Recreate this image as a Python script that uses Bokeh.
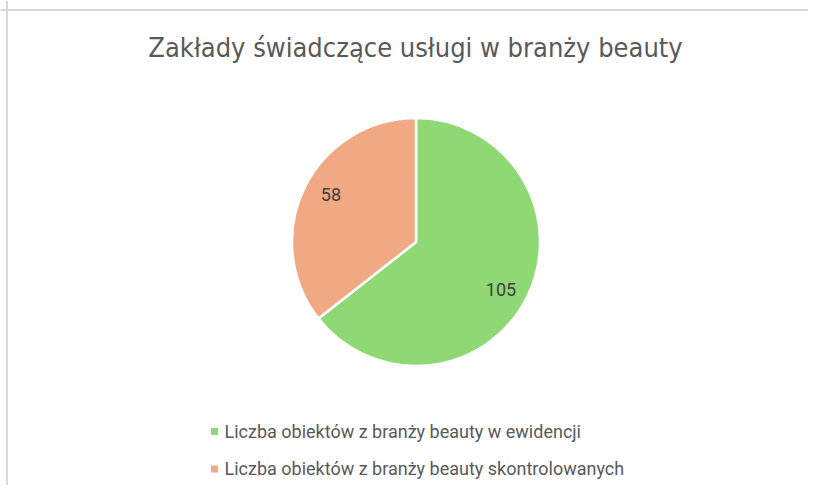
import math
from bokeh.plotting import figure
from bokeh.models import Range1d, Span, ColumnDataSource
from bokeh.core.properties import value
from bokeh.embed import file_html
from bokeh.resources import INLINE

title_text = "Zakłady świadczące usługi w branży beauty"
categories = ["Liczba obiektów z branży beauty w ewidencji",
              "Liczba obiektów z branży beauty skontrolowanych"]
values = [105, 58]
colors = ["#8ED973", "#F1A983"]

W, H = 808, 485
p = figure(width=W, height=H, output_backend="svg", toolbar_location=None,
           x_range=Range1d(0, W), y_range=Range1d(0, H), min_border=0)
p.axis.visible = False
p.grid.visible = False
p.outline_line_color = None
p.background_fill_color = "white"
p.border_fill_color = "white"

# chart border (top & left)
p.add_layout(Span(location=6.5, dimension="height", line_color="#D9D9D9", line_width=2))
p.add_layout(Span(location=H - 9.5, dimension="width", line_color="#D9D9D9", line_width=2))

# title
p.text(x=[415], y=[H - 47], text=[title_text], text_align="center", text_baseline="middle",
       text_font=value("DejaVu Sans Condensed"), text_font_size="27px", text_color="#595959")

# pie
cx, cy, r = 415.5, H - 241.5, 124
total = sum(values)
starts, ends, mids = [], [], []
cum = 0
for v in values:
    a0 = math.pi / 2 - 2 * math.pi * cum / total
    cum += v
    a1 = math.pi / 2 - 2 * math.pi * cum / total
    starts.append(a0)
    ends.append(a1)
    mids.append((a0 + a1) / 2 - 0.06)

src = ColumnDataSource(dict(start=starts, end=ends, color=colors))
p.wedge(x=cx, y=cy, radius=r, start_angle="start", end_angle="end", direction="clock",
        fill_color="color", line_color="white", line_width=2.5, source=src)

lr = 0.787 * r
p.text(x=[cx + lr * math.cos(m) for m in mids], y=[cy + lr * math.sin(m) for m in mids],
       text=[str(v) for v in values], text_align="center", text_baseline="middle",
       text_font=value("Roboto"), text_font_size="18px", text_color="#404040")

# legend
leg_y = [H - 431, H - 468.5]
p.rect(x=[214] * 2, y=leg_y, width=7, height=7, fill_color=colors, line_color=None)
p.text(x=[224] * 2, y=[yy + 0.5 for yy in leg_y], text=categories, text_align="left",
       text_baseline="middle", text_font=value("Roboto"), text_font_size="18px",
       text_color="#595959")

open("out.html", "w").write(file_html(p, INLINE))
